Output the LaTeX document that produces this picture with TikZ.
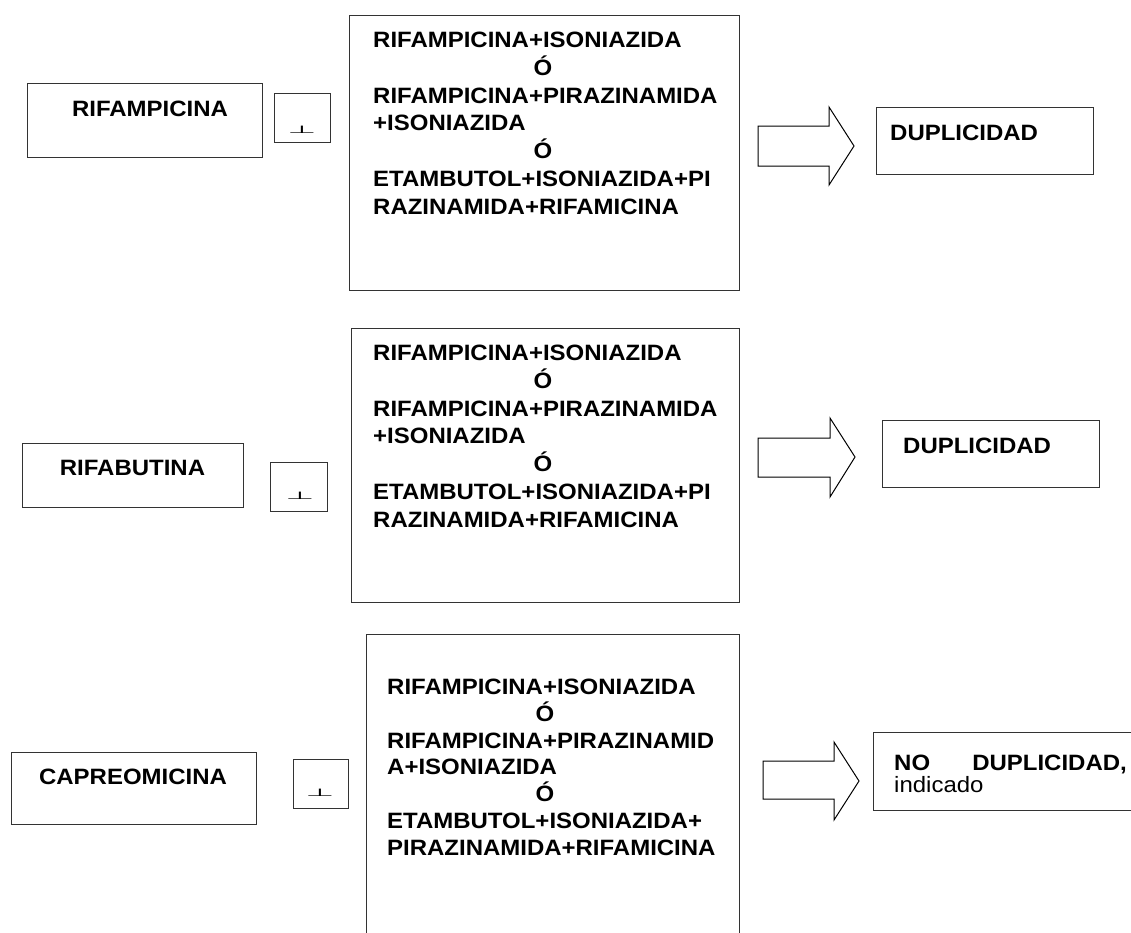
\documentclass[tikz,border=0pt]{standalone}
\usepackage{fontspec}
\setmainfont{Liberation Sans}[FakeStretch=1.08]
\newfontfamily\dejavu{DejaVu Sans}
\usepackage{graphicx}
\tikzset{
  box/.style={draw=black!80, line width=1pt, anchor=north west, inner sep=0pt},
  lbl/.style={font=\fontsize{22.2}{26}\selectfont\bfseries, inner sep=0pt, anchor=base west},
  lblc/.style={lbl, anchor=base},
  lblr/.style={lbl, anchor=base east},
  plain/.style={font=\fontsize{22.2}{26}\selectfont, inner sep=0pt, anchor=base west},
  blockarrow/.style={draw=black, line width=1pt, fill=white, line join=miter},
  tee/.style={font=\fontsize{33}{33}\selectfont\dejavu, inner sep=0pt, anchor=base},
}
\newcommand{\teeglyph}{\scalebox{1}[0.32]{⊥}}
\begin{document}
\begin{tikzpicture}[x=1pt,y=-1pt]
\useasboundingbox (0,0) rectangle (1131,932);

% ---------------- Row 1 ----------------
\node[box, minimum width=235pt, minimum height=74pt] (src1) at (27,83) {};
\node[lblc] (src1t) at (150,116.5) {RIFAMPICINA};
\node[box, minimum width=56pt, minimum height=49pt] (small1) at (274,93) {};
\node[tee] (tee1) at (302,133) {\teeglyph};
\node[box, minimum width=390pt, minimum height=275pt] (big1) at (349,15) {};
\node[lbl]  (b1a) at (373,47.5)  {RIFAMPICINA+ISONIAZIDA};
\node[lblc] (b1b) at (543,75.3)  {Ó};
\node[lbl]  (b1c) at (373,103)   {RIFAMPICINA+PIRAZINAMIDA};
\node[lbl]  (b1d) at (373,130.8) {+ISONIAZIDA};
\node[lblc] (b1e) at (543,158.5) {Ó};
\node[lbl]  (b1f) at (373,186.3) {ETAMBUTOL+ISONIAZIDA+PI};
\node[lbl]  (b1g) at (373,214)   {RAZINAMIDA+RIFAMICINA};
\draw[blockarrow] (758,126) -- (829,126) -- (829,107) -- (854,146) -- (829,185) -- (829,166) -- (758,166) -- cycle;
\node[box, minimum width=217pt, minimum height=67pt] (dup1) at (876,107) {};
\node[lbl] (dup1t) at (890,140.5) {DUPLICIDAD};

% ---------------- Row 2 ----------------
\node[box, minimum width=221pt, minimum height=64pt] (src2) at (22,443) {};
\node[lblc] (src2t) at (132.5,475.5) {RIFABUTINA};
\node[box, minimum width=57pt, minimum height=49pt] (small2) at (270,462) {};
\node[tee] (tee2) at (300,499) {\teeglyph};
\node[box, minimum width=388pt, minimum height=274pt] (big2) at (351,328) {};
\node[lbl]  (b2a) at (373,360.5) {RIFAMPICINA+ISONIAZIDA};
\node[lblc] (b2b) at (543,388.3) {Ó};
\node[lbl]  (b2c) at (373,416)   {RIFAMPICINA+PIRAZINAMIDA};
\node[lbl]  (b2d) at (373,443.8) {+ISONIAZIDA};
\node[lblc] (b2e) at (543,471.5) {Ó};
\node[lbl]  (b2f) at (373,499.3) {ETAMBUTOL+ISONIAZIDA+PI};
\node[lbl]  (b2g) at (373,527)   {RAZINAMIDA+RIFAMICINA};
\draw[blockarrow] (758,438) -- (830,438) -- (830,418) -- (855,457) -- (830,497) -- (830,477) -- (758,477) -- cycle;
\node[box, minimum width=217pt, minimum height=67pt] (dup2) at (882,420) {};
\node[lbl] (dup2t) at (903,453.5) {DUPLICIDAD};

% ---------------- Row 3 ----------------
\node[box, minimum width=245pt, minimum height=72pt] (src3) at (11,752) {};
\node[lblc] (src3t) at (133,784.5) {CAPREOMICINA};
\node[box, minimum width=55pt, minimum height=49pt] (small3) at (293,759) {};
\node[tee] (tee3) at (320,796) {\teeglyph};
\node[box, minimum width=373pt, minimum height=320pt] (big3) at (366,634) {};
\node[lbl]  (b3a) at (387,694.5) {RIFAMPICINA+ISONIAZIDA};
\node[lblc] (b3b) at (545,721.3) {Ó};
\node[lbl]  (b3c) at (387,748.1) {RIFAMPICINA+PIRAZINAMID};
\node[lbl]  (b3d) at (387,774.9) {A+ISONIAZIDA};
\node[lblc] (b3e) at (545,801.7) {Ó};
\node[lbl]  (b3f) at (387,828.5) {ETAMBUTOL+ISONIAZIDA+};
\node[lbl]  (b3g) at (387,855.3) {PIRAZINAMIDA+RIFAMICINA};
\draw[blockarrow] (763,761) -- (834,761) -- (834,742) -- (859,781) -- (834,820) -- (834,799) -- (763,799) -- cycle;
\node[box, minimum width=270pt, minimum height=78pt] (nodup) at (873,732) {};
\node[lbl]  (nodupa) at (894,770) {NO};
\node[lblr] (nodupb) at (1127,770) {DUPLICIDAD,};
\node[plain] (nodupc) at (894,792) {indicado};
\end{tikzpicture}
\end{document}
